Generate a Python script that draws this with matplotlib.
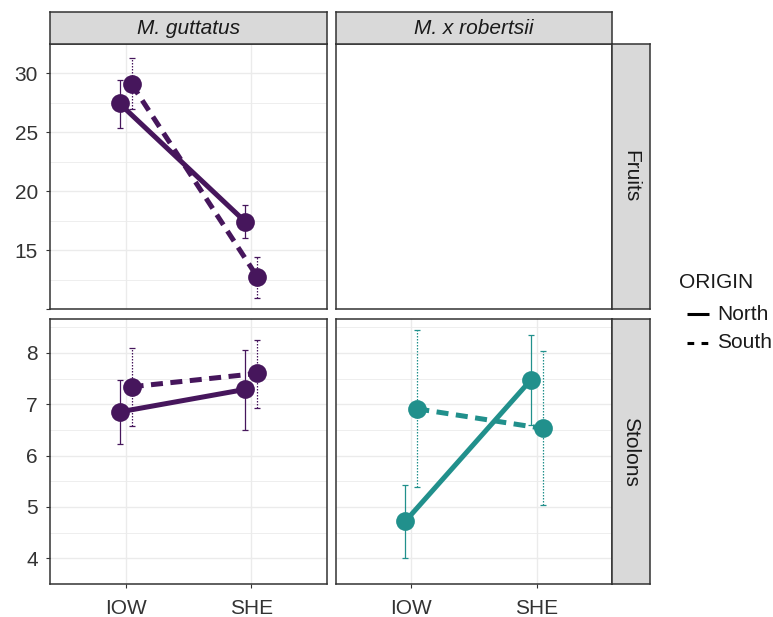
import matplotlib
matplotlib.use("Agg")
import matplotlib.pyplot as plt
from matplotlib.lines import Line2D
import numpy as np

plt.rcParams['font.family'] = ['Liberation Sans', 'DejaVu Sans']

sites = ["IOW", "SHE"]
species = ["M. guttatus", "M. x robertsii"]
traits = ["Fruits", "Stolons"]
origins = ["North", "South"]
legend_title = "ORIGIN"

# Fruits, M. guttatus
fruits_gut_north = [27.45, 17.4]
fruits_gut_north_lo = [25.35, 16.05]
fruits_gut_north_hi = [29.45, 18.8]
fruits_gut_south = [29.1, 12.7]
fruits_gut_south_lo = [27.0, 10.95]
fruits_gut_south_hi = [31.35, 14.4]

# Stolons, M. guttatus
stol_gut_north = [6.85, 7.29]
stol_gut_north_lo = [6.22, 6.49]
stol_gut_north_hi = [7.47, 8.06]
stol_gut_south = [7.34, 7.60]
stol_gut_south_lo = [6.58, 6.93]
stol_gut_south_hi = [8.09, 8.25]

# Stolons, M. x robertsii
stol_rob_north = [4.72, 7.47]
stol_rob_north_lo = [4.0, 6.60]
stol_rob_north_hi = [5.43, 8.34]
stol_rob_south = [6.91, 6.53]
stol_rob_south_lo = [5.38, 5.04]
stol_rob_south_hi = [8.45, 8.04]

purple = "#46165C"
teal = "#21908C"

W, H = 773, 617
fig = plt.figure(figsize=(W / 100, H / 100), dpi=100)
FS = 15

def px_axes(x0, y0, x1, y1, **kw):
    return fig.add_axes([x0 / W, 1 - y1 / H, (x1 - x0) / W, (y1 - y0) / H], **kw)

colx = [(50, 327), (336, 612)]
rowy = [(44, 309), (319, 584)]
ylims = [(10.0, 32.4), (3.78, 8.66)]
yticks = [[10, 15, 20, 25, 30], [4, 5, 6, 7, 8]]
yticklabels = [["", "15", "20", "25", "30"], ["4", "5", "6", "7", "8"]]
yminor = [[12.5, 17.5, 22.5, 27.5, 32.5], [3.5, 4.5, 5.5, 6.5, 7.5, 8.5]]

data = {
    (0, 0): (purple, [(fruits_gut_north, fruits_gut_north_lo, fruits_gut_north_hi),
                      (fruits_gut_south, fruits_gut_south_lo, fruits_gut_south_hi)]),
    (1, 0): (purple, [(stol_gut_north, stol_gut_north_lo, stol_gut_north_hi),
                      (stol_gut_south, stol_gut_south_lo, stol_gut_south_hi)]),
    (1, 1): (teal, [(stol_rob_north, stol_rob_north_lo, stol_rob_north_hi),
                    (stol_rob_south, stol_rob_south_lo, stol_rob_south_hi)]),
}

xpos = np.arange(1, len(sites) + 1)
dodge = [-0.048, 0.048]
border = "#333333"
gridc = "#EBEBEB"
textc = "#1A1A1A"

for r in range(2):
    for c in range(2):
        ax = px_axes(colx[c][0], rowy[r][0], colx[c][1], rowy[r][1])
        ax.set_xlim(0.4, 2.6)
        ax.set_ylim(*ylims[r])
        for s in ax.spines.values():
            s.set_color(border)
            s.set_linewidth(1.1)
        if (r, c) == (0, 1):
            ax.set_xticks([])
            ax.set_yticks([])
            continue
        ax.set_axisbelow(True)
        ax.set_yticks(yticks[r])
        ax.set_yticks(yminor[r], minor=True)
        ax.set_xticks(xpos)
        ax.grid(True, which='major', color=gridc, lw=1.0)
        ax.grid(True, which='minor', axis='y', color=gridc, lw=0.6)
        ax.tick_params(which='minor', length=0)
        ax.tick_params(which='major', length=2.8, color=border, width=0.8,
                       labelsize=FS, labelcolor="#333333")
        ax.tick_params(axis='y', pad=6)
        if c == 0:
            ax.set_yticklabels(yticklabels[r])
        else:
            ax.set_yticklabels([])
            ax.tick_params(axis='y', length=0)
        if r == 1:
            ax.set_xticklabels(sites)
            ax.tick_params(axis='x', pad=8)
        else:
            ax.set_xticklabels([])
            ax.tick_params(axis='x', length=0)
        color, series = data[(r, c)]
        for k, (vals, lo, hi) in enumerate(series):
            xs = xpos + dodge[k]
            ls = '-' if k == 0 else (0, (2.4, 1.5))
            ax.plot(xs, vals, color=color, lw=3.6, ls=ls, zorder=3,
                    solid_capstyle='butt', dash_capstyle='butt')
            v = np.array(vals)
            yerr = np.vstack([v - np.array(lo), np.array(hi) - v])
            eb = ax.errorbar(xs, vals, yerr=yerr, fmt='none', ecolor=color,
                             elinewidth=0.9, capsize=2.3, capthick=0.9, zorder=4)
            if k == 1:
                eb[2][0].set_linestyle((0, (1.2, 1.2)))
            ax.plot(xs, vals, 'o', color=color, ms=13.5, zorder=5, mec='none')

# strips
def strip(x0, y0, x1, y1, text, rot=0, italic=False):
    sax = px_axes(x0, y0, x1, y1)
    sax.set_xticks([]); sax.set_yticks([])
    sax.set_facecolor("#D9D9D9")
    for s in sax.spines.values():
        s.set_color(border)
        s.set_linewidth(1.1)
    sax.text(0.5, 0.5, text, ha='center', va='center', rotation=rot,
             fontsize=FS, color=textc, style='italic' if italic else 'normal',
             transform=sax.transAxes)

strip(50, 12, 327, 44, species[0], italic=True)
strip(336, 12, 612, 44, species[1], italic=True)
strip(612, 44, 650, 309, traits[0], rot=-90)
strip(612, 319, 650, 584, traits[1], rot=-90)

# legend (drawn in figure pixel space)
def fx(x):
    return x / W

def fy(y):
    return 1 - y / H

fig.text(fx(679), fy(283), legend_title, fontsize=FS, color=textc,
         ha='left', va='center')
key_styles = ['-', (0, (2.2, 2.4))]
key_y = [314, 343]
for name, ls, yy in zip(origins, key_styles, key_y):
    fig.add_artist(Line2D([fx(687), fx(709)], [fy(yy), fy(yy)], color='black',
                          lw=2.2, ls=ls, transform=fig.transFigure,
                          dash_capstyle='butt', solid_capstyle='butt'))
    fig.text(fx(717), fy(yy), name, fontsize=FS, color=textc,
             ha='left', va='center')

fig.savefig("out.png", dpi=100)
